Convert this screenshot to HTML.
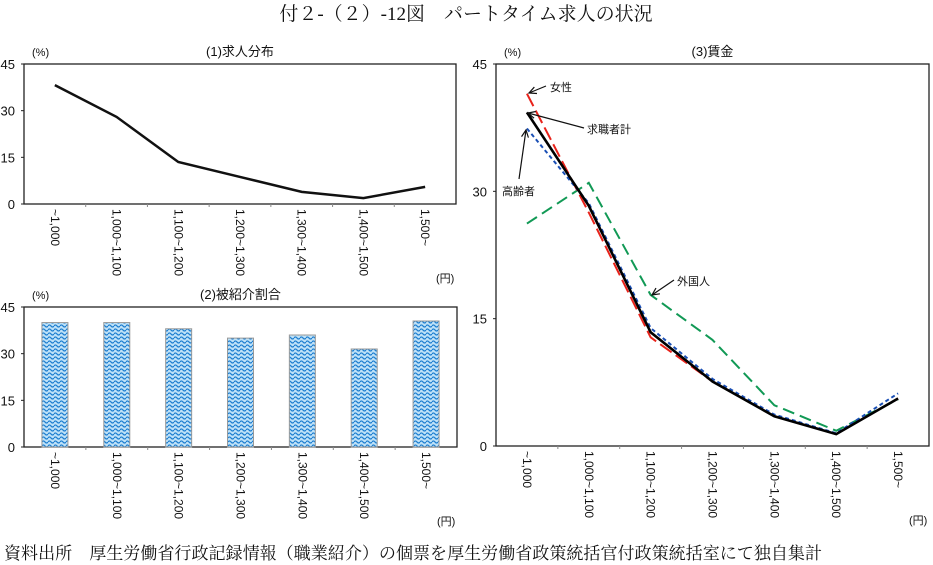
<!DOCTYPE html>
<html><head><meta charset="utf-8">
<style>
body{margin:0;background:#fff;width:933px;height:565px;overflow:hidden;font-family:"Liberation Sans","Noto Sans CJK JP",sans-serif;}
svg{display:block}
text{font-family:"Liberation Sans","Noto Sans CJK JP",sans-serif;fill:#111}
</style></head>
<body>
<svg id="svg" width="933" height="565">
<defs>
<pattern id="wave" width="6" height="4" patternUnits="userSpaceOnUse">
<rect width="6" height="4" fill="#bfe2f8"/>
<path d="M0 2 Q1.5 0 3 2 T6 2" fill="none" stroke="#1f7fd0" stroke-width="1.3"/>
</pattern>
</defs>
<text x="466" y="20" text-anchor="middle" font-size="19" style="font-family:'Liberation Serif','Noto Serif CJK SC',serif">付２-（２）-12図　パートタイム求人の状況</text>
<text x="4" y="559" font-size="17" textLength="818" lengthAdjust="spacingAndGlyphs" style="font-family:'Liberation Serif','Noto Serif CJK SC',serif">資料出所　厚生労働省行政記録情報（職業紹介）の個票を厚生労働省政策統括官付政策統括室にて独自集計</text>
<g id="g"></g>
</svg>
<script>
const categories=["~1,000","1,000~1,100","1,100~1,200","1,200~1,300","1,300~1,400","1,400~1,500","1,500~"];
const yTicks=[0,15,30,45];
const distValues=[38.2,28,13.5,8.7,3.9,1.9,5.5];
const referralValues=[40,40,38,35,36,31.5,40.5];
const wageTotal=[39.3,28.3,13.4,7.6,3.5,1.4,5.6];
const wageWomen=[41.5,27.5,12.8,7.6,3.5,1.4,5.6];
const wageElderly=[37.4,28.6,13.9,7.9,3.7,1.5,6.2];
const wageForeign=[26.2,31,17.8,12.5,4.8,1.8,5.5];
const yMax=45;
const NS="http://www.w3.org/2000/svg";
const G=document.getElementById('g');
function mk(tag,attrs,parent){const e=document.createElementNS(NS,tag);for(const k in attrs)e.setAttribute(k,attrs[k]);(parent||G).appendChild(e);return e;}
function panel(x0,y0,x1,y1,title,key){
  const g=mk('g',{});
  
  
  const xs=i=>x0+(x1-x0)/categories.length*(i+0.5);
  const ys=v=>y1-(v/yMax)*(y1-y0);
  const box=mk('rect',{x:x0,y:y0,width:x1-x0,height:y1-y0,fill:'none',stroke:'#222','stroke-width':1.3},g);
  
  
  const t=mk('text',{x:(x0+x1)/2,y:y0-8,'text-anchor':'middle','font-size':13},g);t.textContent=title;
  
  
  const u=mk('text',{x:x0+8,y:y0-8,'font-size':11},g);u.textContent='(%)';
  
  
  yTicks.forEach(v=>{const tt=mk('text',{x:x0-9,y:ys(v)+5,'text-anchor':'end','font-size':13},g);tt.textContent=v;
    
    
    mk('line',{x1:x0-3,x2:x0,y1:ys(v),y2:ys(v),stroke:'#222'},g);});
  for(let i=1;i<categories.length;i++){const xx=x0+(x1-x0)/categories.length*i;mk('line',{x1:xx,x2:xx,y1:y1,y2:y1+3,stroke:'#888'},g);}
  categories.forEach((c,i)=>{const tt=mk('text',{x:0,y:0,'font-size':12,transform:`translate(${xs(i)-4},${y1+5}) rotate(90)`},g);tt.textContent=c;
    
    });
  const yen=mk('text',{x:x1-20,y:y1+78,'font-size':11},g);yen.textContent='(円)';
  
  
  return {xs,ys,g};
}
function line(p,vals,attrs,name){
  const d=vals.map((v,i)=>(i?'L':'M')+p.xs(i)+' '+p.ys(v)).join(' ');
  const e=mk('path',Object.assign({d,fill:'none'},attrs),p.g);
  
  
}
const p1=panel(24,64,456,204,'(1)求人分布','distribution');
line(p1,distValues,{stroke:'#111','stroke-width':2.5},'distribution-line');
const p2=panel(24,307,457,447,'(2)被紹介割合','referral');
referralValues.forEach((v,i)=>{const r=mk('rect',{x:p2.xs(i)-13,y:p2.ys(v),width:26,height:p2.ys(0)-p2.ys(v),fill:'url(#wave)',stroke:'#999','stroke-width':1},p2.g);
  
  });
const p3=panel(496,64,929,446,'(3)賃金','wage');
line(p3,wageForeign,{stroke:'#119955','stroke-width':2,'stroke-dasharray':'12 6'},'foreign-line');
line(p3,wageWomen,{stroke:'#e8231b','stroke-width':2,'stroke-dasharray':'14 5'},'women-line');
line(p3,wageElderly,{stroke:'#1a4fb5','stroke-width':2,'stroke-dasharray':'4 3'},'elderly-line');
line(p3,wageTotal,{stroke:'#000','stroke-width':2.6},'total-line');
function ann(txt,tx,ty,lx,ly,ax,ay,name){
  mk('path',{d:`M${lx} ${ly} L${ax} ${ay}`,stroke:'#111','stroke-width':1.2,fill:'none'},p3.g);
  const ang=Math.atan2(ly-ay,lx-ax);
  const a1=ang+0.45,a2=ang-0.45;
  mk('path',{d:`M${ax+8*Math.cos(a1)} ${ay+8*Math.sin(a1)} L${ax} ${ay} L${ax+8*Math.cos(a2)} ${ay+8*Math.sin(a2)}`,stroke:'#111','stroke-width':1.2,fill:'none'},p3.g);
  const t=mk('text',{x:tx,y:ty,'font-size':11},p3.g);t.textContent=txt;
  
  
}
ann('女性',550,91,546,86,529,93,'women-label');
ann('求職者計',587,133,584,128,528,113,'total-label');
ann('高齢者',502,195,519,179,526,130,'elderly-label');
ann('外国人',677,285,674,280,652,295,'foreign-label');
</script>
</body></html>
